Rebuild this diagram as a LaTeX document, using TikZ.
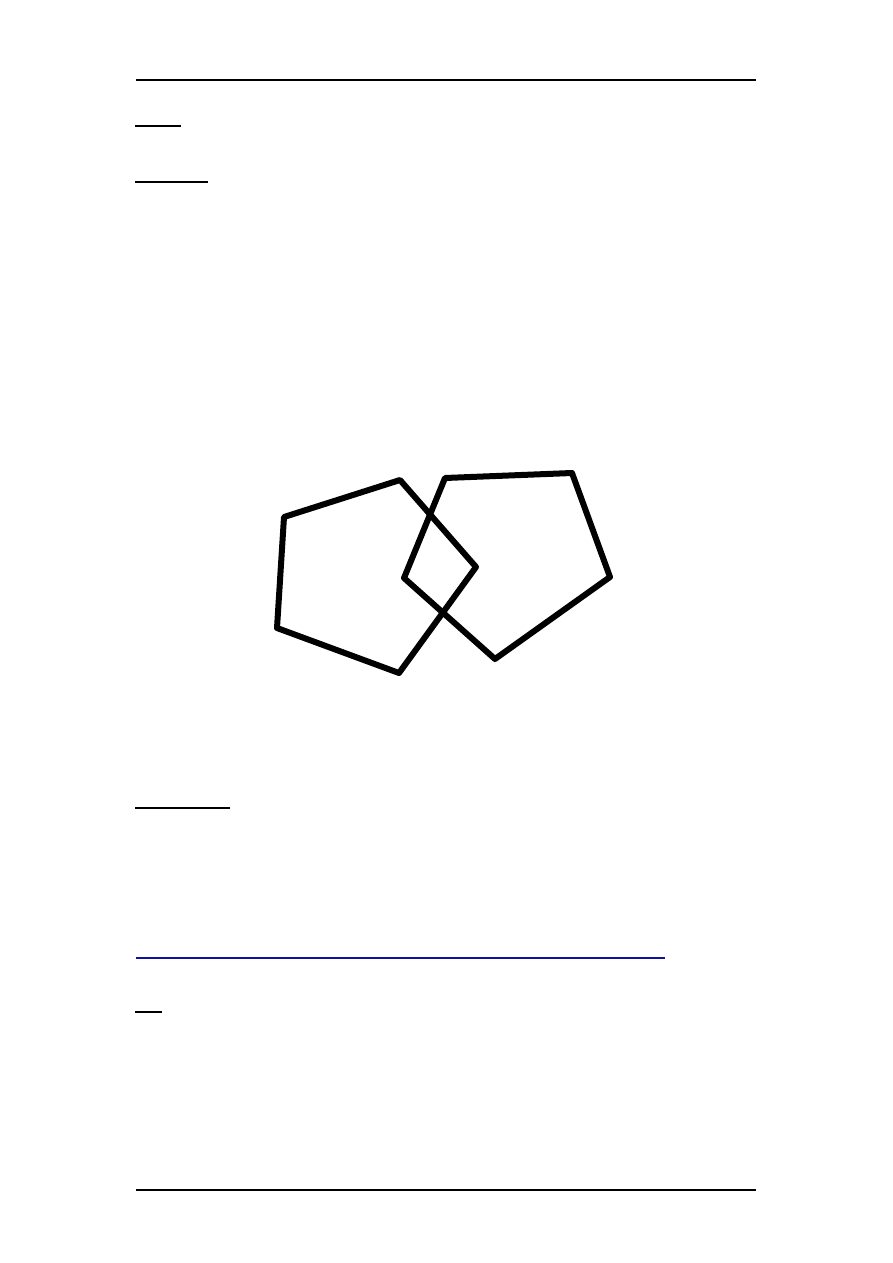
\documentclass[tikz,border=0pt]{standalone}
\usepackage{tikz}
\usepackage{xcolor}
\definecolor{linkblue}{RGB}{16,16,160}

\begin{document}
\begin{tikzpicture}[x=1pt,y=-1pt,line join=round]
            \useasboundingbox (0,0) rectangle (893,1263);
            % page rules
            \draw[line width=2pt] (136,80) -- (756,80);
            \draw[line width=2pt] (136,1190) -- (756,1190);
            % underlines
            \draw[line width=1.2pt] (135,126) -- (181,126);
            \draw[line width=1.2pt] (135,182) -- (208,182);
            \draw[line width=1.2pt] (135,808) -- (230,808);
            \draw[linkblue,line width=2pt] (136,958) -- (665,958);
            \draw[line width=1.2pt] (135,1012) -- (162,1012);
            % left pentagon
            \coordinate (L1) at (400,480);
            \coordinate (L2) at (284,517);
            \coordinate (L3) at (277,628);
            \coordinate (L4) at (399,673);
            \coordinate (L5) at (476,567);
            \draw[line width=6pt] (L1) -- (L2) -- (L3) -- (L4) -- (L5) -- cycle;
            % right pentagon
            \coordinate (R1) at (445,478);
            \coordinate (R2) at (572,473);
            \coordinate (R3) at (610,577);
            \coordinate (R4) at (495,659);
            \coordinate (R5) at (404,578);
            \draw[line width=6pt] (R1) -- (R2) -- (R3) -- (R4) -- (R5) -- cycle;
        \end{tikzpicture}
\end{document}
